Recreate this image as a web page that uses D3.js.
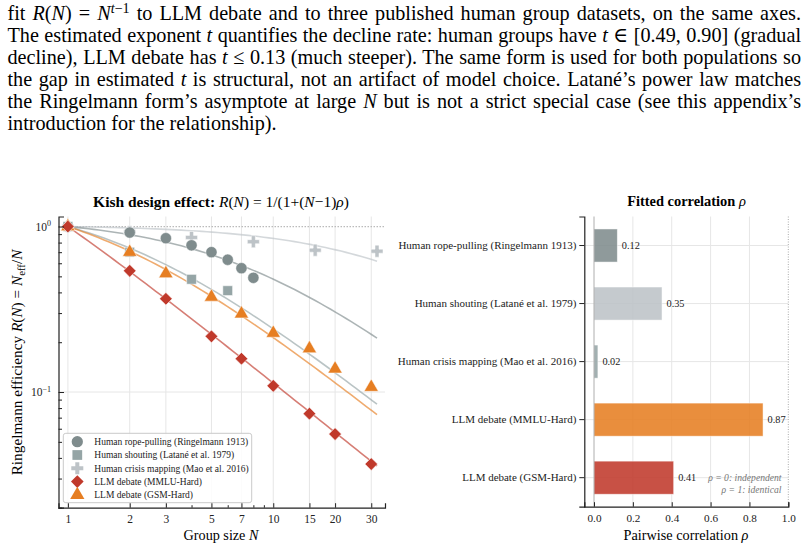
<!DOCTYPE html>
<html>
<head>
<meta charset="utf-8">
<script src="https://cdn.jsdelivr.net/npm/d3@7"></script>
<style>
	body { margin: 0; background: #fff; }
	svg { display: block; font-family: "Liberation Serif", "DejaVu Serif", serif; }
</style>
</head>
<body>
<div id="chart"></div>
<script>
// ---- data ----
const seriesNames = [
	"Human rope-pulling (Ringelmann 1913)",
	"Human shouting (Latané et al. 1979)",
	"Human crisis mapping (Mao et al. 2016)",
	"LLM debate (MMLU-Hard)",
	"LLM debate (GSM-Hard)",
];
const ropeN = [1, 2, 3, 4, 5, 6, 7, 8];
const ropeR = [1.0, 0.92, 0.85, 0.77, 0.7, 0.63, 0.56, 0.49];
const shoutN = [1, 2, 4, 6];
const shoutR = [1.0, 0.7, 0.48, 0.41];
const crisisN = [1, 2, 4, 8, 16, 32];
const crisisR = [1.0, 0.93, 0.86, 0.81, 0.72, 0.71];
const mmluN = [1, 2, 3, 5, 7, 10, 15, 20, 30];
const mmluR = [1.0, 0.54, 0.366, 0.217, 0.159, 0.109, 0.074, 0.0557, 0.0367];
const gsmN = [1, 2, 3, 5, 7, 10, 15, 20, 30];
const gsmR = [1.0, 0.7, 0.52, 0.375, 0.297, 0.227, 0.183, 0.138, 0.107];

// fitted rho per series (same order as seriesNames)
const fittedRho = [0.12, 0.35, 0.02, 0.87, 0.41];

const xTicksN = [1, 2, 3, 5, 7, 10, 15, 20, 30];
const xMinorN = [4, 6, 8, 9];
const rhoTicks = [0, 0.2, 0.4, 0.6, 0.8, 1.0];

const paragraphLines = [
	[["fit "], ["R", "i"], ["("], ["N", "i"], [") = "], ["N", "i"], ["t", "sup-i"], ["−1", "sup"], [" to LLM debate and to three published human group datasets, on the same axes."]],
	[["The estimated exponent "], ["t", "i"], [" quantifies the decline rate: human groups have "], ["t", "i"], [" ∈ [0.49, 0.90] (gradual"]],
	[["decline), LLM debate has "], ["t", "i"], [" ≤ 0.13 (much steeper). The same form is used for both populations so"]],
	[["the gap in estimated "], ["t", "i"], [" is structural, not an artifact of model choice. Latané’s power law matches"]],
	[["the Ringelmann form’s asymptote at large "], ["N", "i"], [" but is not a strict special case (see this appendix’s"]],
	[["introduction for the relationship)."]],
];

// ---- styling ----
const markerColors = ["#7f8c8d", "#95a5a6", "#bdc3c7", "#c0392b", "#e67e22"];
const barColors = ["#7f8c8d", "#bdc3c7", "#95a5a6", "#e67e22", "#c0392b"];

const svg = d3
	.select("#chart")
	.append("svg")
	.attr("width", 808)
	.attr("height", 550);

// write mixed italic / super / subscript / bold runs as tspans
function richText(textSel, runs, fs, supShift = 0.38) {
	textSel.attr("font-size", fs).selectAll("tspan").remove();
	let shift = 0;
	runs.forEach(([str, style]) => {
		const flags = (style || "").split("-");
		const t = textSel.append("tspan").text(str);
		let target = 0;
		if (flags.includes("sup")) target = -supShift * fs;
		if (flags.includes("sub")) target = 0.22 * fs;
		if (target !== shift) {
			t.attr("dy", target - shift);
			shift = target;
		}
		if (flags.includes("sup") || flags.includes("sub")) t.attr("font-size", fs * 0.7);
		if (flags.includes("b")) t.attr("font-weight", "bold");
		if (flags.includes("i")) t.attr("font-style", "italic");
	});
	return textSel;
}

// pick the font size that gives the width measured on the reference
function fitRich(textSel, runs, fs, width) {
	richText(textSel, runs, fs);
	const w = textSel.node().getComputedTextLength();
	richText(textSel, runs, (fs * width) / w);
}
function fitScale(fs, sample, width) {
	const t = svg.append("text").attr("font-size", fs).text(sample);
	const w = t.node().getComputedTextLength();
	t.remove();
	return (fs * width) / w;
}

// ---- paragraph (justified lines) ----
const paraLeft = 7.5;
const paraRight = 801;
const paraSize = 20.2;
paragraphLines.forEach((runs, i) => {
	const txt = svg
		.append("text")
		.attr("transform", `translate(${paraLeft},${19.5 + i * 22}) scale(1,1.04)`)
		.attr("fill", "#000");
	richText(txt, runs, paraSize, 0.3);
	if (i < paragraphLines.length - 1) {
		const len = txt.node().getComputedTextLength();
		const spaces = runs.map((r) => r[0]).join("").split(" ").length - 1;
		txt.attr("word-spacing", (paraRight - paraLeft - len) / spaces);
	}
});

// ---- left panel: Ringelmann efficiency ----
const L = { left: 58.5, right: 385, top: 216.5, bottom: 507.7 };
const x = d3.scaleLog().domain([0.9, 35]).range([L.left, L.right]);
const y = d3.scaleLog().domain([0.02, 1.15]).range([L.bottom, L.top]);

const left = svg.append("g");

// grid
left
	.append("g")
	.selectAll("line")
	.data(xTicksN)
	.join("line")
	.attr("x1", (d) => x(d))
	.attr("x2", (d) => x(d))
	.attr("y1", L.top)
	.attr("y2", L.bottom)
	.attr("stroke", "#e6e6e6")
	.attr("stroke-width", 1);
left
	.append("g")
	.selectAll("line")
	.data([0.1])
	.join("line")
	.attr("x1", L.left)
	.attr("x2", L.right)
	.attr("y1", (d) => y(d))
	.attr("y2", (d) => y(d))
	.attr("stroke", "#e6e6e6");

// R = 1 reference
left
	.append("line")
	.attr("x1", L.left)
	.attr("x2", L.right)
	.attr("y1", y(1))
	.attr("y2", y(1))
	.attr("stroke", "#bbbbbb")
	.attr("stroke-width", 1.3)
	.attr("stroke-dasharray", "1.5,1.5");

// fitted Kish curves R(N) = 1/(1+(N-1)rho)
const fitN = d3.range(0, 61).map((i) => Math.pow(10, (i / 60) * Math.log10(32)));
const kish = (n, rho) => 1 / (1 + (n - 1) * rho);
const curveOrder = [2, 0, 1, 4, 3];
const line = d3
	.line()
	.x((d) => x(d[0]))
	.y((d) => y(d[1]));
curveOrder.forEach((k) => {
	left
		.append("path")
		.attr("d", line(fitN.map((n) => [n, kish(n, fittedRho[k])])))
		.attr("fill", "none")
		.attr("stroke", markerColors[k])
		.attr("stroke-opacity", 0.65)
		.attr("stroke-width", 1.6);
});

// markers
const symbols = [
	d3.symbol(d3.symbolCircle, 100),
	d3.symbol(d3.symbolSquare, 95),
	d3.symbol(d3.symbolCross, 80),
	d3.symbol(d3.symbolSquare, 80),
	d3.symbol(d3.symbolTriangle, 88),
];
const symbolRotate = [0, 0, 0, 45, 0];
const seriesPoints = [
	[ropeN, ropeR],
	[shoutN, shoutR],
	[crisisN, crisisR],
	[mmluN, mmluR],
	[gsmN, gsmR],
];
[2, 0, 1, 4, 3].forEach((k) => {
	const [ns, rs] = seriesPoints[k];
	left
		.append("g")
		.selectAll("path")
		.data(ns.map((n, i) => [n, rs[i]]))
		.join("path")
		.attr("d", symbols[k])
		.attr("transform", (d) => `translate(${x(d[0])},${y(d[1])}) rotate(${symbolRotate[k]})`)
		.attr("fill", markerColors[k])
		.attr("stroke", "#fff")
		.attr("stroke-width", 0.5);
});

// axes
const xAxisL = left
	.append("g")
	.attr("transform", `translate(0,${L.bottom})`)
	.call(d3.axisBottom(x).tickValues(xTicksN).tickFormat(d3.format("d")).tickSize(-4.5).tickPadding(7));
left
	.append("g")
	.attr("transform", `translate(0,${L.bottom})`)
	.call(d3.axisBottom(x).tickValues(xMinorN).tickFormat("").tickSize(-2.5))
	.select(".domain")
	.remove();
const yMinor = [0.02, 0.03, 0.04, 0.05, 0.06, 0.07, 0.08, 0.09, 0.2, 0.3, 0.4, 0.5, 0.6, 0.7, 0.8, 0.9];
const yAxisL = left
	.append("g")
	.attr("transform", `translate(${L.left},0)`)
	.call(d3.axisLeft(y).tickValues([1, 0.1]).tickFormat("").tickSize(-5.5));
left
	.append("g")
	.attr("transform", `translate(${L.left},0)`)
	.call(d3.axisLeft(y).tickValues(yMinor).tickFormat("").tickSize(-3.5))
	.select(".domain")
	.remove();
[xAxisL, yAxisL].forEach((g) => {
	g.select(".domain").attr("stroke", "#222").attr("stroke-width", 1.2);
});
left.selectAll(".tick line").attr("stroke", "#222");
xAxisL
	.selectAll("text")
	.attr("font-family", "Liberation Serif")
	.attr("font-size", 11.5)
	.attr("fill", "#222");

[[1, "0"], [0.1, "−1"]].forEach(([v, ex]) => {
	const t = left
		.append("text")
		.attr("x", 51)
		.attr("y", y(v) + 4)
		.attr("text-anchor", "end")
		.attr("fill", "#222");
	richText(t, [["10"], [ex, "sup"]], 11.5);
});

// titles / labels
const titleL = left
	.append("text")
	.attr("x", 221)
	.attr("y", 206.5)
	.attr("text-anchor", "middle");
fitRich(titleL, [["Kish design effect: ", "b"], ["R", "i"], ["("], ["N", "i"], [") = 1/(1+("], ["N", "i"], ["−1)"], ["ρ", "i"], [")"]], 13.5, 256);

const yLab = left
	.append("text")
	.attr("transform", `translate(22,362.5) rotate(-90)`)
	.attr("text-anchor", "middle");
fitRich(yLab, [["Ringelmann efficiency "], ["R", "i"], ["("], ["N", "i"], [") = "], ["N", "i"], ["eff", "sub"], ["/"], ["N", "i"]], 15, 226);

const xLab = left
	.append("text")
	.attr("x", 221)
	.attr("y", 540)
	.attr("text-anchor", "middle");
fitRich(xLab, [["Group size "], ["N", "i"]], 15, 75);

// legend
const legSize = fitScale(10, seriesNames[0], 154);
const leg = left.append("g");
leg
	.append("rect")
	.attr("x", 63.3)
	.attr("y", 433.3)
	.attr("width", 188.4)
	.attr("height", 69.4)
	.attr("rx", 2.5)
	.attr("fill", "#fff")
	.attr("fill-opacity", 0.85)
	.attr("stroke", "#c4c4c4")
	.attr("stroke-width", 0.9);
seriesNames.forEach((name, k) => {
	const ly = 441.7 + k * 13.3;
	leg
		.append("path")
		.attr("d", symbols[k])
		.attr("transform", `translate(77.3,${ly}) rotate(${symbolRotate[k]})`)
		.attr("fill", markerColors[k]);
	leg
		.append("text")
		.attr("x", 94.3)
		.attr("y", ly + 3.3)
		.attr("font-size", legSize)
		.attr("fill", "#222")
		.text(name);
});

// ---- right panel: fitted correlation ----
const Rp = { left: 584.3, right: 788.3, top: 216.5, bottom: 506.7 };
const xr = d3.scaleLinear().domain([-0.05, 1.0]).range([Rp.left, Rp.right]);
const yr = d3
	.scaleBand()
	.domain(seriesNames)
	.range([Rp.top, Rp.bottom])
	.paddingInner(0.43)
	.paddingOuter(0.215);

const right = svg.append("g");

right
	.append("g")
	.selectAll("line")
	.data(rhoTicks.slice(1, 5))
	.join("line")
	.attr("x1", (d) => xr(d))
	.attr("x2", (d) => xr(d))
	.attr("y1", Rp.top)
	.attr("y2", Rp.bottom)
	.attr("stroke", "#e6e6e6");
right
	.append("g")
	.selectAll("line")
	.data(seriesNames)
	.join("line")
	.attr("x1", Rp.left)
	.attr("x2", Rp.right)
	.attr("y1", (d) => yr(d) + yr.bandwidth() / 2)
	.attr("y2", (d) => yr(d) + yr.bandwidth() / 2)
	.attr("stroke", "#e6e6e6");

right
	.append("g")
	.selectAll("rect")
	.data(seriesNames)
	.join("rect")
	.attr("x", xr(0))
	.attr("y", (d) => yr(d))
	.attr("width", (d, i) => xr(fittedRho[i]) - xr(0))
	.attr("height", yr.bandwidth())
	.attr("fill", (d, i) => barColors[i])
	.attr("fill-opacity", 0.88)
	.attr("stroke", "#fff")
	.attr("stroke-opacity", 0.6)
	.attr("stroke-width", 0.8);

// rho = 0 and rho = 1 lines
right
	.append("line")
	.attr("x1", xr(0))
	.attr("x2", xr(0))
	.attr("y1", Rp.top)
	.attr("y2", Rp.bottom)
	.attr("stroke", "#999")
	.attr("stroke-width", 0.8);
right
	.append("line")
	.attr("x1", xr(1))
	.attr("x2", xr(1))
	.attr("y1", Rp.top)
	.attr("y2", Rp.bottom)
	.attr("stroke", "#aaa")
	.attr("stroke-width", 1)
	.attr("stroke-dasharray", "1,1.5");

right
	.append("g")
	.selectAll("text")
	.data(seriesNames)
	.join("text")
	.attr("x", (d, i) => xr(fittedRho[i]) + 4.5)
	.attr("y", (d) => yr(d) + yr.bandwidth() / 2 + 3.6)
	.attr("font-size", 10.3)
	.attr("fill", "#222")
	.text((d, i) => d3.format(".2f")(fittedRho[i]));

const catSize = fitScale(11, seriesNames[0], 178);
const xAxisR = right
	.append("g")
	.attr("transform", `translate(0,${Rp.bottom})`)
	.call(d3.axisBottom(xr).tickValues(rhoTicks).tickFormat(d3.format(".1f")).tickSize(-4.5).tickPadding(7));
const yAxisR = right
	.append("g")
	.attr("transform", `translate(${Rp.left},0)`)
	.call(d3.axisLeft(yr).tickSize(5).tickPadding(3));
[xAxisR, yAxisR].forEach((g) => {
	g.select(".domain").attr("stroke", "#222").attr("stroke-width", 1.2);
	g.selectAll(".tick line").attr("stroke", "#222");
	g.selectAll("text").attr("font-family", "Liberation Serif").attr("fill", "#222");
});
xAxisR.selectAll("text").attr("font-size", 11.2);
yAxisR.selectAll("text").attr("font-size", catSize);

const titleR = right
	.append("text")
	.attr("x", 686.5)
	.attr("y", 206)
	.attr("text-anchor", "middle");
fitRich(titleR, [["Fitted correlation ", "b"], ["ρ", "i"]], 13.5, 118.7);

const xLabR = right
	.append("text")
	.attr("x", 686)
	.attr("y", 540)
	.attr("text-anchor", "middle");
fitRich(xLabR, [["Pairwise correlation "], ["ρ", "i"]], 15, 125);

const noteSize = fitScale(9, "ρ = 0: independent", 72);
[["ρ = 0: independent", 480.5], ["ρ = 1: identical", 493]].forEach(([s, ty]) => {
	right
		.append("text")
		.attr("x", 781.5)
		.attr("y", ty)
		.attr("text-anchor", "end")
		.attr("font-size", noteSize)
		.attr("font-style", "italic")
		.attr("fill", "#777")
		.text(s);
});
</script>
</body>
</html>
